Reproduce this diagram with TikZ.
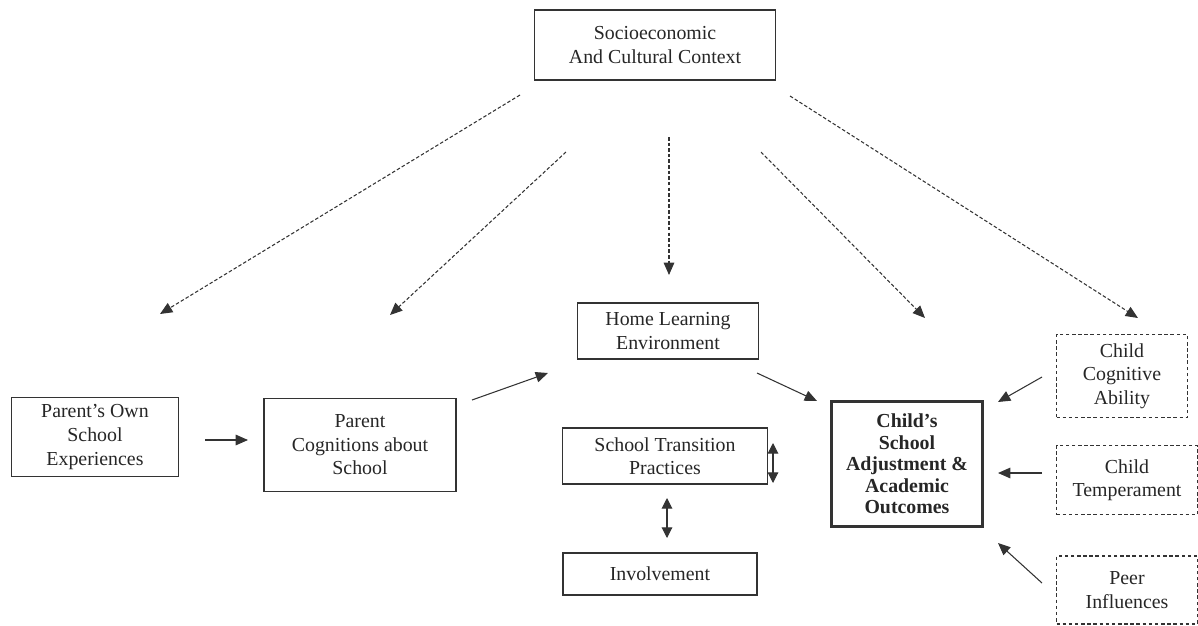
\documentclass[tikz,border=0pt]{standalone}
\usepackage{fontspec}
\setmainfont{Liberation Serif}
\usetikzlibrary{arrows.meta}

\begin{document}
\begin{tikzpicture}[x=0.02cm, y=-0.02cm,
      font=\fontsize{11.3}{13.4}\selectfont,
      b/.style={draw=black!80, line width=0.8pt, align=center, inner sep=2pt, text=black!85},
      d/.style={b, dash pattern=on 2pt off 1.5pt, line width=0.6pt},
      to/.style={-{Triangle[length=7pt, width=6pt]}, line width=0.6pt, black!80},
      dto/.style={to, dash pattern=on 2pt off 1.2pt},
      both/.style={{Triangle[length=6pt, width=6pt]}-{Triangle[length=6pt, width=6pt]}, line width=0.6pt, black!80}]
    \useasboundingbox (0,0) rectangle (1198,626);
    % boxes
    \node[b, minimum width=4.82cm, minimum height=1.4cm] (socio) at (655,45) {Socioeconomic\\And Cultural Context};
    \node[b, minimum width=3.34cm, minimum height=1.58cm] (own) at (95,437) {Parent’s Own\\School\\Experiences};
    \node[b, minimum width=3.84cm, minimum height=1.86cm] (cogn) at (360,445) {Parent\\Cognitions about\\School};
    \node[b, minimum width=3.62cm, minimum height=1.12cm] (home) at (668,331) {Home Learning\\Environment};
    \node[b, minimum width=4.1cm, minimum height=1.12cm] (trans) at (665,456) {School Transition\\Practices};
    \node[b, minimum width=3.88cm, minimum height=0.84cm] (inv) at (660,574) {Involvement};
    \node[b, line width=1.4pt, minimum width=3.02cm, minimum height=2.5cm, font=\fontsize{11.3}{12.2}\selectfont\bfseries] (child) at (907,464) {Child’s\\School\\Adjustment \&\\Academic\\Outcomes};
    \node[d, minimum width=2.62cm, minimum height=1.66cm] (abil) at (1122,376) {Child\\Cognitive\\Ability};
    \node[d, minimum width=2.82cm, minimum height=1.38cm] (temp) at (1127,480) {Child\\Temperament};
    \node[d, minimum width=2.82cm, minimum height=1.36cm] (peer) at (1127,590) {Peer\\Influences};
    % arrow ends
    \coordinate (s1) at (520,95);  \coordinate (e1) at (160,314);
    \coordinate (s2) at (566,152); \coordinate (e2) at (390,315);
    \coordinate (s3) at (669,137); \coordinate (e3) at (669,275);
    \coordinate (s4) at (761,152); \coordinate (e4) at (925,318);
    \coordinate (s5) at (790,96);  \coordinate (e5) at (1138,318);
    \coordinate (o1) at (205,440); \coordinate (o2) at (248,440);
    \coordinate (c1) at (472,400); \coordinate (c2) at (548,373);
    \coordinate (h1) at (757,373); \coordinate (h2) at (817,401);
    \coordinate (a1) at (1042,377); \coordinate (a2) at (998,402);
    \coordinate (t1) at (1042,473); \coordinate (t2) at (998,473);
    \coordinate (p1) at (1042,583); \coordinate (p2) at (998,543);
    \coordinate (r1) at (773,443); \coordinate (r2) at (773,483);
    \coordinate (v1) at (667,498); \coordinate (v2) at (667,538);
    % connectors
    \foreach \i in {1,...,5}
      \draw[dto] (s\i) -- (e\i);
    \draw[to] (o1) -- (o2);
    \draw[to] (c1) -- (c2);
    \draw[to] (h1) -- (h2);
    \draw[to] (a1) -- (a2);
    \draw[to] (t1) -- (t2);
    \draw[to] (p1) -- (p2);
    \draw[both] (r1) -- (r2);
    \draw[both] (v1) -- (v2);
  \end{tikzpicture}
\end{document}
